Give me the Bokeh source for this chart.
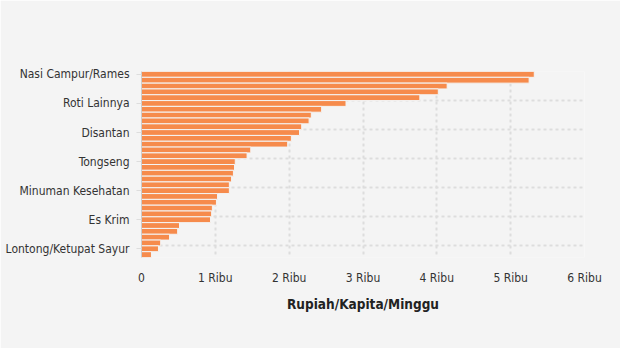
from bokeh.plotting import figure
from bokeh.models import ColumnDataSource, FixedTicker, Range1d
from bokeh.embed import file_html
from bokeh.resources import INLINE

# Weekly per-capita spending (Rupiah), sorted descending, top to bottom
values = [5320, 5250, 4140, 4020, 3770, 2770, 2440, 2300, 2270, 2170,
          2140, 2030, 1980, 1480, 1430, 1270, 1260, 1245, 1220, 1190,
          1190, 1030, 1015, 960, 950, 935, 515, 490, 380, 260,
          230, 135]
# Visible category labels (every fifth category is labelled)
label_positions = [0, 5, 10, 15, 20, 25, 30]
label_names = ["Nasi Campur/Rames", "Roti Lainnya", "Disantan", "Tongseng",
               "Minuman Kesehatan", "Es Krim", "Lontong/Ketupat Sayur"]
x_ticks = [0, 1000, 2000, 3000, 4000, 5000, 6000]
x_tick_labels = ["0", "1 Ribu", "2 Ribu", "3 Ribu", "4 Ribu", "5 Ribu", "6 Ribu"]
x_title = "Rupiah/Kapita/Minggu"

FONT = "DejaVu Sans Condensed, DejaVu Sans"

n = len(values)
src = ColumnDataSource(dict(y=list(range(n)), v=values))

p = figure(width=620, height=348, output_backend="svg", toolbar_location=None,
           x_range=Range1d(0, 6000), y_range=Range1d(n - 0.5, -0.5),
           min_border_left=141, min_border_right=36, min_border_top=71,
           min_border_bottom=91)
p.background_fill_color = "#f4f4f4"
p.border_fill_color = "#f4f4f4"
p.outline_line_color = None

p.hbar(y="y", right="v", left=0, height=1.0, source=src,
       fill_color="#f68b4c", line_color="#f4f4f4", line_width=1)

# x axis
p.xaxis.ticker = FixedTicker(ticks=x_ticks)
p.xaxis.major_label_overrides = {t: l for t, l in zip(x_ticks, x_tick_labels)}
p.xaxis.axis_line_color = None
p.xaxis.major_tick_line_color = None
p.xaxis.minor_tick_line_color = None
p.xaxis.major_label_text_font = FONT
p.xaxis.major_label_text_font_size = "12px"
p.xaxis.major_label_text_color = "#333333"
p.xaxis.major_label_standoff = 7
p.xaxis.axis_label = x_title
p.xaxis.axis_label_text_font = FONT
p.xaxis.axis_label_text_font_size = "13.5px"
p.xaxis.axis_label_text_font_style = "bold"
p.xaxis.axis_label_text_color = "#222222"
p.xaxis.axis_label_standoff = 8

# y axis
p.yaxis.ticker = FixedTicker(ticks=label_positions)
p.yaxis.major_label_overrides = {t: l for t, l in zip(label_positions, label_names)}
p.yaxis.axis_line_color = "#cccccc"
p.yaxis.major_tick_line_color = "#dddddd"
p.yaxis.major_tick_in = 0
p.yaxis.major_tick_out = 5
p.yaxis.minor_tick_line_color = None
p.yaxis.major_label_text_font = FONT
p.yaxis.major_label_text_font_size = "12px"
p.yaxis.major_label_text_color = "#333333"
p.yaxis.major_label_standoff = 7

# grids
p.xgrid.ticker = FixedTicker(ticks=x_ticks)
p.xgrid.grid_line_color = "#dddddd"
p.xgrid.grid_line_width = 2
p.xgrid.grid_line_dash = "3 3"
p.ygrid.ticker = FixedTicker(ticks=[t - 0.5 for t in label_positions])
p.ygrid.grid_line_color = "#dddddd"
p.ygrid.grid_line_width = 2
p.ygrid.grid_line_dash = "3 3"

open("out.html", "w").write(file_html(p, INLINE))
